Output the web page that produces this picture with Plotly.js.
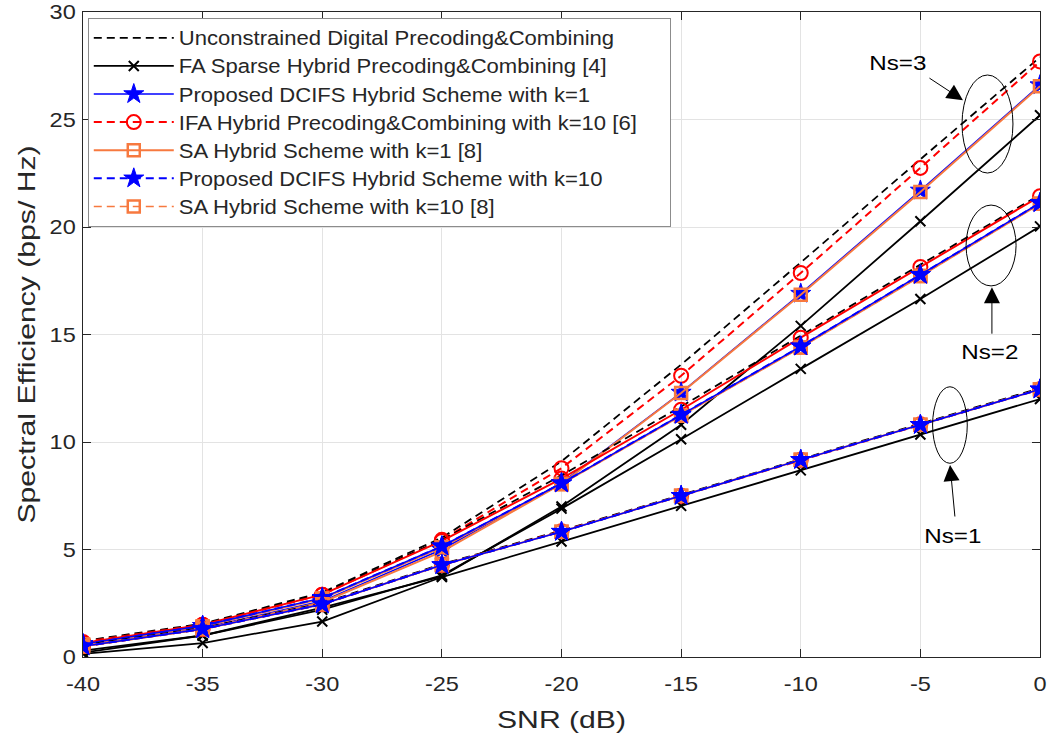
<!DOCTYPE html>
<html>
<head>
<meta charset="utf-8">
<script src="https://cdn.plot.ly/plotly-3.0.1.min.js"></script>
<style>
html,body{margin:0;padding:0;background:#fff;}
#chart{width:1047px;height:740px;}
</style>
</head>
<body>
<div id="chart"></div>
<script>
// ---- data ----
const snr = [-40, -35, -30, -25, -20, -15, -10, -5, 0];

// Ns = 3
const ns3Unconstrained = [0.75, 1.55, 3.0, 5.55, 9.1, 13.6, 18.35, 23.15, 27.9];
const ns3FA            = [0.2, 1.0, 2.3, 3.75, 7.0, 10.8, 15.4, 20.27, 25.2];
const ns3ProposedK1    = [0.55, 1.35, 2.6, 5.0, 8.1, 12.3, 16.9, 21.7, 26.6];
const ns3IFA           = [0.7, 1.5, 2.9, 5.45, 8.78, 13.08, 17.86, 22.75, 27.7];
const ns3SAK1          = [0.5, 1.3, 2.55, 4.9, 8.05, 12.28, 16.85, 21.63, 26.55];

// Ns = 2
const ns2Unconstrained = [0.65, 1.5, 2.95, 5.45, 8.45, 11.65, 14.95, 18.25, 21.5];
const ns2FA            = [0.3, 1.0, 2.2, 3.8, 6.9, 10.13, 13.4, 16.65, 20.03];
const ns2ProposedK1    = [0.6, 1.45, 2.75, 5.15, 8.08, 11.27, 14.45, 17.78, 21.12];
const ns2IFA           = [0.65, 1.5, 2.9, 5.4, 8.3, 11.5, 14.85, 18.14, 21.43];
const ns2SAK1          = [0.58, 1.42, 2.72, 5.1, 8.05, 11.22, 14.4, 17.72, 21.08];
const ns2ProposedK10   = [0.6, 1.45, 2.75, 5.15, 8.08, 11.27, 14.45, 17.78, 21.12];
const ns2SAK10         = [0.58, 1.42, 2.72, 5.1, 8.05, 11.22, 14.4, 17.72, 21.08];

// Ns = 1
const ns1Unconstrained = [0.55, 1.35, 2.5, 4.32, 5.88, 7.55, 9.2, 10.85, 12.5];
const ns1FA            = [0.15, 0.65, 1.65, 3.72, 5.37, 7.03, 8.68, 10.35, 12.0];
const ns1ProposedK1    = [0.5, 1.3, 2.45, 4.28, 5.83, 7.5, 9.17, 10.8, 12.45];
const ns1IFA           = [0.5, 1.3, 2.45, 4.28, 5.85, 7.5, 9.17, 10.82, 12.45];
const ns1SAK1          = [0.5, 1.3, 2.45, 4.28, 5.83, 7.5, 9.17, 10.8, 12.45];
const ns1ProposedK10   = [0.5, 1.3, 2.45, 4.28, 5.83, 7.5, 9.17, 10.8, 12.45];
const ns1SAK10         = [0.5, 1.3, 2.45, 4.28, 5.83, 7.5, 9.17, 10.8, 12.45];

const names = [
  'Unconstrained Digital Precoding&Combining',
  'FA Sparse Hybrid Precoding&Combining [4]',
  'Proposed DCIFS Hybrid Scheme with k=1',
  'IFA Hybrid Precoding&Combining with k=10 [6]',
  'SA Hybrid Scheme with k=1 [8]',
  'Proposed DCIFS Hybrid Scheme with k=10',
  'SA Hybrid Scheme with k=10 [8]'
];

const xTicks = [-40, -35, -30, -25, -20, -15, -10, -5, 0];
const yTicks = [0, 5, 10, 15, 20, 25, 30];

// ---- styles ----
const ORANGE = '#F7793F';
const DASH = '8px,5px';
const styles = {
  unc:  {line:{color:'#000', width:1.8, dash:DASH}, mode:'lines'},
  fa:   {line:{color:'#000', width:1.8}, mode:'lines+markers', marker:{symbol:'x-thin-open', size:10, color:'#000', line:{color:'#000', width:2}}},
  p1:   {line:{color:'#0000FF', width:1.5}, mode:'lines+markers', marker:{symbol:'star', size:15, color:'#0000FF', line:{color:'#0000FF', width:1}}},
  ifa:  {line:{color:'#FF0000', width:2, dash:DASH}, mode:'lines+markers', marker:{symbol:'circle-open', size:14, color:'#FF0000', line:{color:'#FF0000', width:2}}},
  ifaS: {line:{color:'#FF0000', width:2}, mode:'lines+markers', marker:{symbol:'circle-open', size:14, color:'#FF0000', line:{color:'#FF0000', width:2}}},
  sa1:  {line:{color:ORANGE, width:2}, mode:'lines+markers', marker:{symbol:'square-open', size:12, color:ORANGE, line:{color:ORANGE, width:2.5}}},
  p10:  {line:{color:'#0000FF', width:2, dash:DASH}, mode:'lines+markers', marker:{symbol:'star', size:15, color:'#0000FF', line:{color:'#0000FF', width:1}}},
  sa10: {line:{color:ORANGE, width:1.5, dash:DASH}, mode:'lines+markers', marker:{symbol:'square-open', size:12, color:ORANGE, line:{color:ORANGE, width:2.5}}}
};

function tr(y, st, name, show, rank) {
  const t = {x: snr, y: y, type: 'scatter', name: name, showlegend: show, legendrank: rank,
             mode: st.mode, line: st.line, hoverinfo: 'skip'};
  if (st.marker) t.marker = st.marker;
  return t;
}

const data = [
  // Ns = 3
  tr(ns3Unconstrained, styles.unc, names[0], false, 1),
  tr(ns3FA, styles.fa, names[1], false, 2),
  tr(ns3IFA, styles.ifa, names[3], false, 4),
  tr(ns3ProposedK1, styles.p1, names[2], false, 3),
  tr(ns3SAK1, styles.sa1, names[4], false, 5),
  // Ns = 2
  tr(ns2Unconstrained, styles.unc, names[0], false, 1),
  tr(ns2FA, styles.fa, names[1], false, 2),
  tr(ns2IFA, styles.ifaS, names[3], false, 4),
  tr(ns2SAK1, styles.sa1, names[4], false, 5),
  tr(ns2SAK10, styles.sa10, names[6], false, 7),
  tr(ns2ProposedK1, styles.p1, names[2], false, 3),
  tr(ns2ProposedK10, styles.p10, names[5], false, 6),
  // Ns = 1
  tr(ns1Unconstrained, styles.unc, names[0], true, 1),
  tr(ns1FA, styles.fa, names[1], true, 2),
  tr(ns1IFA, styles.ifa, names[3], true, 4),
  tr(ns1SAK1, styles.sa1, names[4], true, 5),
  tr(ns1SAK10, styles.sa10, names[6], true, 7),
  tr(ns1ProposedK1, styles.p1, names[2], true, 3),
  tr(ns1ProposedK10, styles.p10, names[5], true, 6)
];

const FONT = 'Liberation Sans, Arial, Helvetica, sans-serif';
const TXT = '#262626';

const ell = (x0, x1, y0, y1) => ({type:'circle', xref:'x', yref:'y', x0:x0, x1:x1, y0:y0, y1:y1, line:{color:'#000', width:1}});
const arrow = (x, y, ax, ay) => ({x: x, y: y, xref:'x', yref:'y', ax: ax, ay: ay, showarrow: true,
  arrowhead: 2, arrowsize: 3.2, arrowwidth: 1, arrowcolor: '#000', text: ''});
const label = (x, y, t) => ({x: x, y: y, xref:'x', yref:'y', showarrow: false, text: t,
  font: {family: FONT, size: 21, color: '#000'}});

const layout = {
  width: 1047, height: 740,
  margin: {l: 83, r: 7, t: 12, b: 83},
  paper_bgcolor: '#fff', plot_bgcolor: '#fff',
  font: {family: FONT, color: TXT},
  showlegend: true,
  legend: {
    x: 0.005, y: 0.991, xanchor: 'left', yanchor: 'top',
    bgcolor: '#fff', bordercolor: '#8c8c8c', borderwidth: 1,
    font: {family: FONT, size: 19.3, color: TXT},
    itemwidth: 80, traceorder: 'normal'
  },
  xaxis: {
    range: [-40, 0], tickvals: xTicks, ticktext: xTicks.map(String),
    showgrid: true, gridcolor: '#e3e3e3', gridwidth: 1,
    zeroline: false, showline: true, linecolor: TXT, linewidth: 1, mirror: 'ticks',
    ticks: 'inside', ticklen: 8, tickcolor: TXT, ticklabelstandoff: 8,
    tickfont: {family: FONT, size: 21, color: TXT},
    title: {text: 'SNR (dB)', font: {family: FONT, size: 24, color: TXT}, standoff: 16}
  },
  yaxis: {
    range: [0, 30], tickvals: yTicks, ticktext: yTicks.map(String),
    showgrid: true, gridcolor: '#e3e3e3', gridwidth: 1,
    zeroline: false, showline: true, linecolor: TXT, linewidth: 1, mirror: 'ticks',
    ticks: 'inside', ticklen: 8, tickcolor: TXT, ticklabelstandoff: 2,
    tickfont: {family: FONT, size: 21, color: TXT},
    title: {text: 'Spectral Efficiency (bps/ Hz)', font: {family: FONT, size: 24, color: TXT}, standoff: 10}
  },
  shapes: [
    ell(-3.26, -1.13, 22.51, 27.07),
    ell(-3.09, -1.0, 17.26, 21.02),
    ell(-4.49, -3.04, 9.01, 12.57)
  ],
  annotations: [
    arrow(-3.22, 25.9, -35, -23), label(-5.94, 27.63, 'Ns=3'),
    arrow(-2.01, 17.2, 0, 48),    label(-2.09, 14.19, 'Ns=2'),
    arrow(-3.76, 8.93, 5, 53),    label(-3.64, 5.67, 'Ns=1')
  ]
};

// horizontally widen text glyphs (the reference's lettering is wider than Arial)
function stretch(el, factor) {
  const len = el.getComputedTextLength();
  if (!len) return 0;
  el.setAttribute('textLength', (len * factor).toFixed(2));
  el.setAttribute('lengthAdjust', 'spacingAndGlyphs');
  return len * (factor - 1);
}

Plotly.newPlot('chart', data, layout, {displayModeBar: false, staticPlot: true}).then(gd => {
  gd.querySelectorAll('g.xtick text, g.ytick text').forEach(t => stretch(t, 1.12));
  const xt = gd.querySelector('text.xtitle');
  let titleF = 1.2;
  if (xt) { titleF = 129 / xt.getComputedTextLength(); stretch(xt, titleF); }
  const yt = gd.querySelector('text.ytitle');
  if (yt) stretch(yt, titleF);
  gd.querySelectorAll('text.annotation-text').forEach(t => stretch(t, 1.15));

  // legend
  const lts = Array.from(gd.querySelectorAll('g.legend text.legendtext'));
  let maxLen = 0;
  lts.forEach(t => { maxLen = Math.max(maxLen, t.getComputedTextLength()); });
  const lf = maxLen ? 458 / maxLen : 1;
  lts.forEach(t => stretch(t, lf));
  let maxRight = 0;
  lts.forEach(t => { maxRight = Math.max(maxRight, t.getBoundingClientRect().right); });
  const bg = gd.querySelector('g.legend rect.bg');
  if (bg) {
    const r = bg.getBoundingClientRect();
    const delta = (maxRight + 34) - r.right;
    const w = parseFloat(bg.getAttribute('width'));
    bg.setAttribute('width', (w + delta).toFixed(1));
    document.querySelectorAll('clipPath[id^="legend"] rect').forEach(cr => {
      const cw = parseFloat(cr.getAttribute('width'));
      if (!isNaN(cw)) cr.setAttribute('width', (cw + delta).toFixed(1));
    });
  }
});
</script>
</body>
</html>
